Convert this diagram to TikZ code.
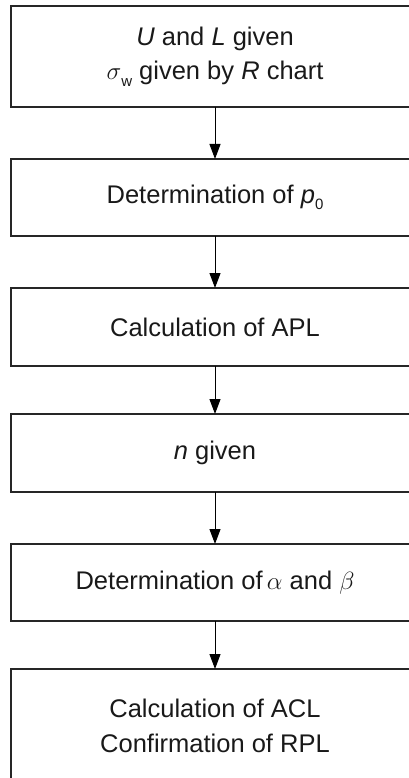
\documentclass[tikz,border=0pt]{standalone}
\usepackage{amssymb,amsmath}
\usepackage{fontspec}
\setmainfont{Liberation Sans}
\usepackage{tikz}
\usetikzlibrary{arrows.meta}

\newcommand{\lowidx}[1]{\raisebox{-0.25em}{\fontsize{15}{15}\selectfont #1}}

\begin{document}
\begin{tikzpicture}[x=1pt,y=-1pt]
  \tikzset{StepStyle/.style = {
    shape         = rectangle,
    draw          = black!85,
    fill          = white,
    line width    = 1.2pt,
    text          = black!90,
    align         = center,
    inner sep     = 0pt,
    outer sep     = 0pt,
    minimum width = 408pt,
    font          = \fontsize{25.5}{34.5}\selectfont
    }
  }
  \tikzset{ArrowStyle/.style = {
    draw          = black,
    line width    = 1pt,
    -{Triangle[length=15pt,width=11pt]}
    }
  }

  \useasboundingbox (0,0) rectangle (408,778);

	\node[StepStyle, minimum height=101pt](S1) at (215, 56.5) {\textit{U} and \textit{L} given\\$\sigma$\lowidx{w} given by \textit{R} chart};
	\node[StepStyle, minimum height=77pt](S2) at (215, 197.5) {Determination of \textit{p}\lowidx{0}};
	\node[StepStyle, minimum height=78pt](S3) at (215, 327) {Calculation of APL};
	\node[StepStyle, minimum height=78pt](S4) at (215, 453) {\textit{n} given};
	\node[StepStyle, minimum height=77pt](S5) at (215, 582.5) {Determination of\,$\alpha$ and $\beta$};
	\node[StepStyle, minimum height=114pt](S6) at (215, 726) {Calculation of ACL\\Confirmation of RPL};
	\draw[ArrowStyle](S1) to (S2);
	\draw[ArrowStyle](S2) to (S3);
	\draw[ArrowStyle](S3) to (S4);
	\draw[ArrowStyle](S4) to (S5);
	\draw[ArrowStyle](S5) to (S6);

  \end{tikzpicture}
\end{document}
